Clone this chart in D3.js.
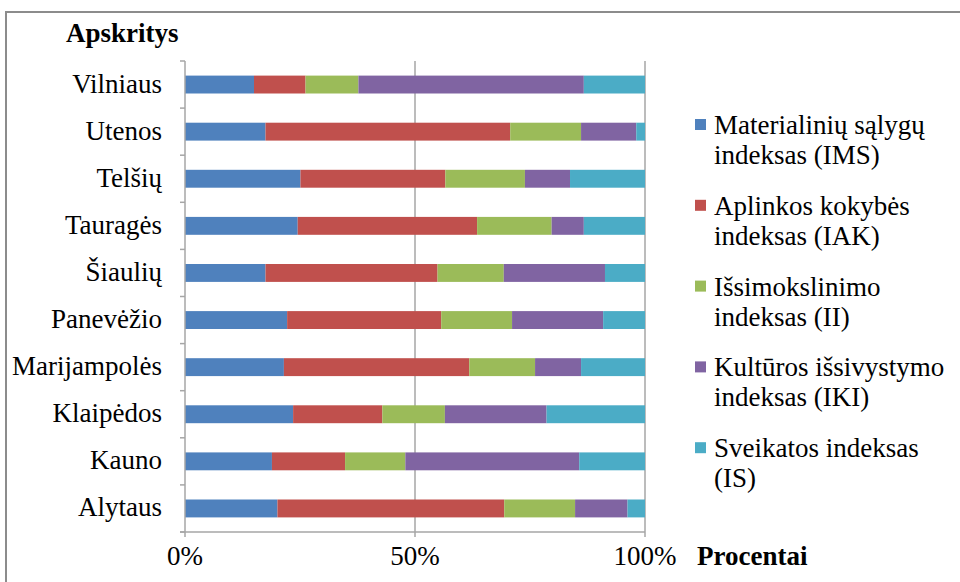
<!DOCTYPE html>
<html><head><meta charset="utf-8">
<script src="https://cdn.jsdelivr.net/npm/d3@7"></script>
<style>body{margin:0;background:#fff}svg{display:block}</style>
</head><body>
<svg id="c" width="960" height="582"></svg>
<script>
const categories = ["Vilniaus","Utenos","Telšių","Tauragės","Šiaulių","Panevėžio","Marijampolės","Klaipėdos","Kauno","Alytaus"];
const seriesNames = [
  ["Materialinių sąlygų","indeksas (IMS)"],
  ["Aplinkos kokybės","indeksas (IAK)"],
  ["Išsimokslinimo","indeksas (II)"],
  ["Kultūros išsivystymo","indeksas (IKI)"],
  ["Sveikatos indeksas","(IS)"]
];
const IMS = [15.0,17.5,25.1,24.5,17.5,22.2,21.5,23.5,18.9,20.1];
const IAK = [11.2,53.2,31.5,39.0,37.4,33.5,40.3,19.4,15.9,49.3];
const II  = [11.5,15.4,17.3,16.2,14.4,15.4,14.3,13.6,13.1,15.4];
const IKI = [49.0,12.0,9.8,7.0,22.0,19.8,10.0,22.1,37.8,11.4];
const IS  = [13.3,1.9,16.3,13.3,8.7,9.1,13.9,21.4,14.3,3.8];
const tickLabels = ["0%","50%","100%"];
const colors = ["#4F81BD","#C0504D","#9BBB59","#8064A2","#4BACC6"];
const FONT = '"Liberation Serif"';

const svg = d3.select("#c");
const L = 185, R = 645, T = 61, B = 532;
const series = [IMS, IAK, II, IKI, IS];
const rows = categories.map((c,i)=>{
  const o = {cat:c}; const tot = d3.sum(series, s=>s[i]);
  series.forEach((s,k)=>o["s"+k]=s[i]/tot); return o;
});
const stack = d3.stack().keys(series.map((_,k)=>"s"+k))(rows);

const x = d3.scaleLinear().domain([0,1]).range([L,R]);
const y = d3.scaleBand().domain(categories).range([T,B]).paddingInner(0.62).paddingOuter(0.31);
const yb = d3.scaleBand().domain(categories).range([T,B]);

svg.append("rect").attr("x",6).attr("y",12).attr("width",1000).attr("height",700)
  .attr("fill","none").attr("stroke","#8c8c8c").attr("stroke-width",2);

svg.append("g").selectAll("line").data([0.5,1]).join("line")
  .attr("x1",d=>x(d)).attr("x2",d=>x(d)).attr("y1",T).attr("y2",B)
  .attr("stroke","#a6a6a6").attr("stroke-width",1.5);

svg.append("g").selectAll("g").data(stack).join("g").attr("fill",(d,k)=>colors[k])
  .selectAll("rect").data(d=>d).join("rect")
  .attr("x",d=>x(d[0])).attr("width",d=>x(d[1])-x(d[0]))
  .attr("y",d=>y(d.data.cat)).attr("height",y.bandwidth());

const ya = svg.append("g");
ya.append("line").attr("x1",L).attr("x2",L).attr("y1",T).attr("y2",B).attr("stroke","#a6a6a6").attr("stroke-width",1.5);
const bounds = categories.map(c=>yb(c)).concat([B]);
ya.selectAll("line.t").data(bounds).join("line").attr("class","t")
  .attr("x1",L-5).attr("x2",L).attr("y1",d=>d).attr("y2",d=>d).attr("stroke","#a6a6a6").attr("stroke-width",1.5);
ya.selectAll("text").data(categories).join("text")
  .attr("x",162).attr("y",d=>yb(d)+yb.bandwidth()/2+8).attr("text-anchor","end")
  .style("font-family",FONT).style("font-size","27px").text(d=>d);

const xa = svg.append("g");
xa.append("line").attr("x1",L-5).attr("x2",R).attr("y1",B).attr("y2",B).attr("stroke","#a6a6a6").attr("stroke-width",1.5);
xa.selectAll("line.t").data([0,0.5,1]).join("line").attr("class","t")
  .attr("x1",d=>x(d)).attr("x2",d=>x(d)).attr("y1",B).attr("y2",B+5).attr("stroke","#a6a6a6").attr("stroke-width",1.5);
xa.selectAll("text").data(tickLabels).join("text")
  .attr("x",(d,i)=>x(i*0.5)).attr("y",565).attr("text-anchor","middle")
  .style("font-family",FONT).style("font-size","27px").text(d=>d);

svg.append("text").attr("x",697).attr("y",565).style("font-family",FONT).style("font-size","27px").style("font-weight","bold").text("Procentai");
svg.append("text").attr("x",66).attr("y",42).style("font-family",FONT).style("font-size","27px").style("font-weight","bold").text("Apskritys");

const lg = svg.append("g").selectAll("g").data(seriesNames).join("g")
  .attr("transform",(d,i)=>`translate(695,${125+i*80.8})`);
lg.append("rect").attr("x",0).attr("y",-6).attr("width",11).attr("height",11).attr("fill",(d,i)=>colors[i]);
lg.append("text").attr("x",19).attr("y",9).style("font-family",FONT).style("font-size","27px").text(d=>d[0]);
lg.append("text").attr("x",19).attr("y",39).style("font-family",FONT).style("font-size","27px").text(d=>d[1]);
</script>
</body></html>
